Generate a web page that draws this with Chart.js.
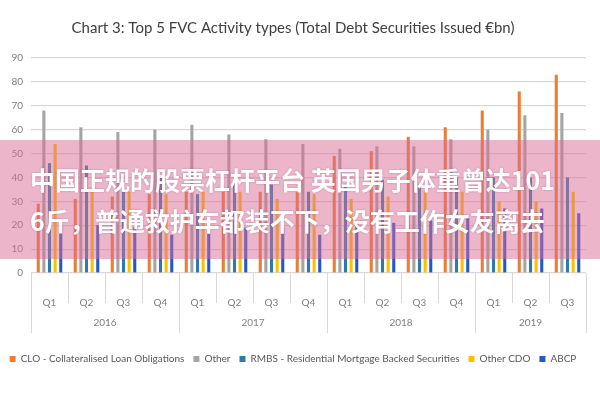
<!DOCTYPE html>
<html>
<head>
<meta charset="utf-8">
<script src="https://cdn.jsdelivr.net/npm/chart.js@4"></script>
<style>
  html,body{margin:0;padding:0;background:#fff}
  #wrap{position:relative;width:600px;height:400px;overflow:hidden}
  #band{position:absolute;left:0;top:140px;width:600px;height:119px;background:rgba(218,108,150,.5);box-sizing:border-box;padding:19px 0 0 30px;
    font-family:'Noto Sans CJK SC',sans-serif;font-weight:700;font-size:25px;line-height:41px;color:#fff;text-shadow:0 0 2px rgba(90,30,50,.3);white-space:nowrap}
</style>
</head>
<body>
<div id="wrap">
  <canvas id="c" width="600" height="400"></canvas>
  <div id="band">中国正规的股票杠杆平台 英国男子体重曾达101<br>6斤，普通救护车都装不下，没有工作女友离去</div>
</div>
<script>
// ── data (€bn) ──
const quarters = ['Q1','Q2','Q3','Q4','Q1','Q2','Q3','Q4','Q1','Q2','Q3','Q4','Q1','Q2','Q3'];
const years = ['2016','2017','2018','2019'];
const yearSpans = [4,4,4,3];
const seriesNames = ['CLO - Collateralised Loan Obligations','Other','RMBS - Residential Mortgage Backed Securities','Other CDO','ABCP'];
const clo      = [29,31,32,33,34,34,34,34,49,51,57,61,68,76,83];
const other    = [68,61,59,60,62,58,56,54,52,53,53,56,60,66,67];
const rmbs     = [46,45,34,40,33,39,37,34,37,39,37,40,40,40,40];
const otherCdo = [54,36,34,33,34,34,31,33,31,32,34,34,30,30,34];
const abcp     = [20,20,19,16,20,19,19,16,21,21,22,23,27,27,25];
const yTicks   = [0,10,20,30,40,50,60,70,80,90];

(function(){
  'use strict';

  const FONT = "Lato,'Liberation Sans Narrow',sans-serif";
  const cols = ['#ED7D31','#A5A5A5','#2B7BAE','#FFC000','#2458C6'];
  const lineCol = '#D9D9D9';

  // year row + separators under the quarter labels
  const yearAxis = {
    id:'yearAxis',
    afterDraw(chart){
      const x = chart.scales.x, ctx = chart.ctx;
      const base = chart.chartArea.bottom;
      const step = x.getPixelForValue(1) - x.getPixelForValue(0);
      const edge = i => x.getPixelForValue(0) - step/2 + i*step;
      const yearEnds = [0];
      yearSpans.reduce((s,n)=>{ yearEnds.push(s+n); return s+n; },0);
      ctx.save();
      ctx.strokeStyle = lineCol; ctx.lineWidth = 1;
      for(let i=0;i<=quarters.length;i++){
        const long = yearEnds.includes(i);
        const px = Math.round(edge(i))+0.5;
        ctx.beginPath(); ctx.moveTo(px, base); ctx.lineTo(px, base+(long?60:30)); ctx.stroke();
      }
      ctx.fillStyle = '#7f7f7f'; ctx.font = '10px '+FONT;
      ctx.textAlign = 'center'; ctx.textBaseline = 'middle';
      years.forEach((y,i)=>{
        ctx.fillText(y, (edge(yearEnds[i])+edge(yearEnds[i+1]))/2, base+50);
      });
      ctx.restore();
    }
  };

  const data = [clo,other,rmbs,otherCdo,abcp];
  new Chart(document.getElementById('c'),{
    type:'bar',
    data:{
      labels:quarters,
      datasets:data.map((d,i)=>({
        label:seriesNames[i], data:d, backgroundColor:cols[i], borderWidth:0,
        barPercentage:0.55, categoryPercentage:0.76
      }))
    },
    options:{
      responsive:false, animation:false,
      layout:{padding:{top:9,right:14,left:0,bottom:26}},
      plugins:{
        title:{display:true, text:'Chart 3: Top 5 FVC Activity types (Total Debt Securities Issued €bn)',
          color:'#404040', font:{family:FONT,size:15,weight:'normal'}, padding:{top:10,bottom:21}},
        legend:{position:'bottom', labels:{boxWidth:6, boxHeight:6, padding:9, color:'#595959', font:{family:FONT,size:10}}},
        tooltip:{enabled:false}
      },
      scales:{
        x:{
          grid:{display:false}, border:{display:false},
          ticks:{color:'#7f7f7f', font:{family:FONT,size:10}, padding:16, maxRotation:0, autoSkip:false},
          afterFit:s=>{ s.height = 72; }
        },
        y:{
          min:0, max:90,
          afterBuildTicks:s=>{ s.ticks = yTicks.map(v=>({value:v})); },
          grid:{color:lineCol, lineWidth:1.2, drawTicks:false}, border:{display:false},
          ticks:{color:'#7f7f7f', font:{family:FONT,size:10}, padding:8},
          afterFit:s=>{ s.width = 31; }
        }
      }
    },
    plugins:[yearAxis]
  });
})();
</script>
</body>
</html>
